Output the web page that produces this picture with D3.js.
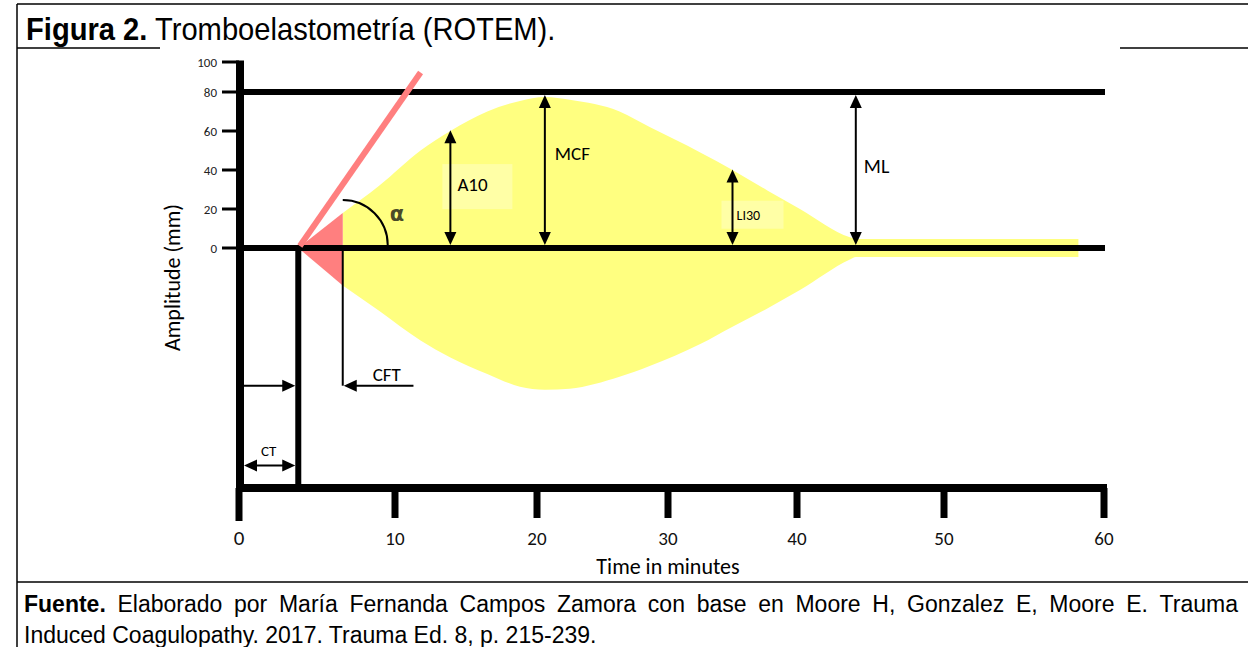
<!DOCTYPE html>
<html lang="es">
<head>
<meta charset="UTF-8">
<title>Tromboelastometría (ROTEM)</title>
<script src="https://d3js.org/d3.v7.min.js"></script>
<style>
  body { margin: 0; background: #fff; }
  svg { display: block; }
</style>
</head>
<body>
<script>
// values (time in minutes, amplitude in mm)
let timeTicks = [0, 10, 20, 30, 40, 50, 60];
let ampTicks = [0, 20, 40, 60, 80, 100];
let refLines = [0, 80];
let ctTime = 3.8;
let cftTime = 6.65;
let cftArrowEnd = 11.3;
let curveTime   = [3.8, 6.65, 9, 11.8, 13.9, 16.5, 18.8, 20.6, 22.5, 26.3, 28.6, 32.5, 35, 37.7, 40.2, 43.6, 44, 58.4];
let curveTop    = [0, 18, 32, 50, 60, 70, 75.4, 77.4, 76, 70, 62, 49, 40, 29.5, 20, 5.5, 4.6, 4.6];
let curveBottom = [0, -19, -32, -47, -55.6, -64, -70.5, -72, -71.5, -65.5, -60, -48.8, -40, -30.7, -21.4, -5.9, -4.6, -4.6];
let alphaTime = [3.9, 11.8];
let alphaAmp = [1, 93];
let arrowNames = ["A10", "MCF", "LI30", "ML"];
let arrowTime = [13.9, 20.6, 35, 44];
let arrowTop = [60.4, 80, 40.3, 80];
let ctArrowAmp = [-70, -110.6];

// layout
let W = 1248, H = 647;
let labelFont = "Carlito, Calibri, 'Open Sans', sans-serif";
let textFont = "'Liberation Sans', Arial, sans-serif";
let arrowLabel = {
    A10: { dx: 7, dy: 2, size: 19, box: [-15, -27, 70, 45] },
    MCF: { dx: 10, dy: -10, size: 19 },
    LI30: { dx: 4, dy: 11, size: 14, box: [-15, -19, 62, 28] },
    ML: { dx: 8, dy: 3, size: 20 }
};

let x = d3.scaleLinear().domain(timeTicks).range([239, 395, 537, 668, 797, 944, 1104]);
let y = d3.scaleLinear().domain([-122, 0, 80, 100]).range([488, 248, 92, 62]);

let svg = d3.select("body").append("svg")
    .attr("width", W)
    .attr("height", H);

// frame of the figure
svg.append("line").attr("x1", 17).attr("x2", 17).attr("y1", 4).attr("y2", H)
    .attr("stroke", "black").attr("stroke-width", 1.5);
svg.append("line").attr("x1", 17).attr("x2", W).attr("y1", 4).attr("y2", 4)
    .attr("stroke", "black").attr("stroke-width", 1.5);
svg.append("line").attr("x1", 17).attr("x2", 160).attr("y1", 48).attr("y2", 48)
    .attr("stroke", "black").attr("stroke-width", 1.5);
svg.append("line").attr("x1", 1120).attr("x2", W).attr("y1", 48).attr("y2", 48)
    .attr("stroke", "black").attr("stroke-width", 1.5);
svg.append("line").attr("x1", 17).attr("x2", W).attr("y1", 582).attr("y2", 582)
    .attr("stroke", "black").attr("stroke-width", 1.5);

// title
let title = svg.append("text")
    .attr("transform", "translate(26,40) scale(0.94,1)")
    .attr("font-family", textFont)
    .attr("font-size", 31);
title.append("tspan").attr("font-weight", "bold").text("Figura 2.");
title.append("tspan").text(" Tromboelastometría (ROTEM).");

// curve: red part before CFT, yellow after
let pts = curveTime.map((t, i) => ({ t: t, top: curveTop[i], bot: curveBottom[i] }));
let area = d3.area()
    .x(d => x(d.t))
    .y0(d => y(d.bot))
    .y1(d => y(d.top));

svg.append("path")
    .datum(pts.filter(d => d.t >= cftTime))
    .attr("d", area.curve(d3.curveMonotoneX))
    .attr("fill", "#ffff80");

svg.append("path")
    .datum(pts.filter(d => d.t <= cftTime))
    .attr("d", area.curve(d3.curveLinear))
    .attr("fill", "#ff7f7f");

// soft boxes behind some labels
arrowNames.forEach((name, i) => {
    let l = arrowLabel[name];
    if (!l.box) return;
    let mid = (y(0) + y(arrowTop[i])) / 2;
    svg.append("rect")
        .attr("x", x(arrowTime[i]) + l.dx + l.box[0])
        .attr("y", mid + l.dy + l.box[1])
        .attr("width", l.box[2])
        .attr("height", l.box[3])
        .attr("fill", "#ffffa6");
});

// thick reference lines
refLines.forEach(v => {
    svg.append("line")
        .attr("x1", x(0)).attr("x2", x(60) + 1)
        .attr("y1", y(v)).attr("y2", y(v))
        .attr("stroke", "black").attr("stroke-width", 6);
});

// y axis
svg.append("line")
    .attr("x1", x(0) + 1).attr("x2", x(0) + 1)
    .attr("y1", y(101)).attr("y2", y(-122) + 4)
    .attr("stroke", "black").attr("stroke-width", 8);

ampTicks.forEach(v => {
    svg.append("line")
        .attr("x1", x(0) - 17).attr("x2", x(0))
        .attr("y1", y(v)).attr("y2", y(v))
        .attr("stroke", "black").attr("stroke-width", 3);
    svg.append("text")
        .attr("x", x(0) - 22)
        .attr("y", y(v) + 4.5)
        .attr("text-anchor", "end")
        .attr("font-family", labelFont)
        .attr("font-size", 13)
        .attr("fill", "#222")
        .text(v);
});

svg.append("text")
    .attr("transform", "translate(180," + y(-15) + ") rotate(-90)")
    .attr("text-anchor", "middle")
    .attr("font-family", labelFont)
    .attr("font-size", 22)
    .text("Amplitude (mm)");

// x axis
svg.append("line")
    .attr("x1", x(0) - 3).attr("x2", x(60) + 3)
    .attr("y1", y(-122)).attr("y2", y(-122))
    .attr("stroke", "black").attr("stroke-width", 8);

timeTicks.forEach(t => {
    svg.append("line")
        .attr("x1", x(t)).attr("x2", x(t))
        .attr("y1", y(-122)).attr("y2", y(-122) + (t === 0 ? 33 : 30))
        .attr("stroke", "black").attr("stroke-width", 7);
    svg.append("text")
        .attr("x", x(t))
        .attr("y", 545)
        .attr("text-anchor", "middle")
        .attr("font-family", labelFont)
        .attr("font-size", t === 0 ? 21 : 19)
        .attr("fill", "#111")
        .text(t);
});

svg.append("text")
    .attr("x", x(30))
    .attr("y", 574)
    .attr("text-anchor", "middle")
    .attr("font-family", labelFont)
    .attr("font-size", 22)
    .text("Time in minutes");

// arrow helpers
function head(tipX, tipY, dir) {
    let L = 13, w = 6, p;
    if (dir === "up") p = [[tipX, tipY], [tipX - w, tipY + L], [tipX + w, tipY + L]];
    if (dir === "down") p = [[tipX, tipY], [tipX - w, tipY - L], [tipX + w, tipY - L]];
    if (dir === "left") p = [[tipX, tipY], [tipX + L, tipY - w], [tipX + L, tipY + w]];
    if (dir === "right") p = [[tipX, tipY], [tipX - L, tipY - w], [tipX - L, tipY + w]];
    svg.append("path").attr("d", d3.line()(p) + "Z").attr("fill", "black");
}

function seg(x1, y1, x2, y2, w) {
    svg.append("line")
        .attr("x1", x1).attr("x2", x2).attr("y1", y1).attr("y2", y2)
        .attr("stroke", "black").attr("stroke-width", w);
}

// CT and CFT markers
seg(x(ctTime), y(0), x(ctTime), y(-122), 6);
seg(x(cftTime), y(0) + 2, x(cftTime), y(ctArrowAmp[0]), 2);

seg(x(0) + 5, y(ctArrowAmp[0]), x(ctTime) - 8, y(ctArrowAmp[0]), 2);
head(x(ctTime) - 3, y(ctArrowAmp[0]), "right");

seg(x(0) + 10, y(ctArrowAmp[1]), x(ctTime) - 8, y(ctArrowAmp[1]), 2);
head(x(0) + 5, y(ctArrowAmp[1]), "left");
head(x(ctTime) - 3, y(ctArrowAmp[1]), "right");

svg.append("text")
    .attr("x", (x(0) + x(ctTime)) / 2)
    .attr("y", y(ctArrowAmp[1]) - 10)
    .attr("text-anchor", "middle")
    .attr("font-family", labelFont)
    .attr("font-size", 15)
    .text("CT");

seg(x(cftTime) + 8, y(ctArrowAmp[0]), x(cftArrowEnd), y(ctArrowAmp[0]), 2);
head(x(cftTime) + 1, y(ctArrowAmp[0]), "left");
svg.append("text")
    .attr("x", x(cftTime) + 30)
    .attr("y", y(ctArrowAmp[0]) - 5)
    .attr("font-family", labelFont)
    .attr("font-size", 19)
    .text("CFT");

// amplitude arrows
arrowNames.forEach((name, i) => {
    let ax = x(arrowTime[i]);
    let bottom = y(0) - 3;
    let top = refLines.includes(arrowTop[i]) ? y(arrowTop[i]) + 3 : y(arrowTop[i]);
    seg(ax, top + 8, ax, bottom - 8, 2);
    head(ax, top, "up");
    head(ax, bottom, "down");
    let l = arrowLabel[name];
    svg.append("text")
        .attr("x", ax + l.dx)
        .attr("y", (y(0) + y(arrowTop[i])) / 2 + l.dy)
        .attr("font-family", labelFont)
        .attr("font-size", l.size)
        .text(name);
});

// alpha angle
svg.append("line")
    .attr("x1", x(alphaTime[0])).attr("y1", y(alphaAmp[0]))
    .attr("x2", x(alphaTime[1])).attr("y2", y(alphaAmp[1]))
    .attr("stroke", "#ff7f7f").attr("stroke-width", 6);

let r = 45;
let arc = d3.path();
arc.moveTo(x(cftTime), y(0) - 3 - r);
arc.arc(x(cftTime), y(0) - 3, r, -Math.PI / 2, 0);
svg.append("path")
    .attr("d", arc.toString())
    .attr("fill", "none")
    .attr("stroke", "black")
    .attr("stroke-width", 2);

svg.append("text")
    .attr("x", x(cftTime) + 47)
    .attr("y", 221)
    .attr("font-family", "'DejaVu Sans', sans-serif")
    .attr("font-size", 21)
    .attr("font-weight", "bold")
    .attr("fill", "#4a4a28")
    .text("α");

// source note: first line justified word by word
let footWords = "Fuente. Elaborado por María Fernanda Campos Zamora con base en Moore H, Gonzalez E, Moore E. Trauma".split(" ");
let footLeft = 24, footRight = 1238;
let words = svg.append("g")
    .attr("font-family", textFont)
    .attr("font-size", 23);
let nodes = footWords.map((w, i) => words.append("text")
    .attr("y", 612)
    .attr("font-weight", i === 0 ? "bold" : "normal")
    .text(w));
let widths = nodes.map(n => n.node().getComputedTextLength());
let gap = (footRight - footLeft - d3.sum(widths)) / (footWords.length - 1);
let cursor = footLeft;
nodes.forEach((n, i) => {
    n.attr("x", cursor);
    cursor += widths[i] + gap;
});

svg.append("text")
    .attr("x", footLeft)
    .attr("y", 643)
    .attr("font-family", textFont)
    .attr("font-size", 23)
    .text("Induced Coagulopathy. 2017. Trauma Ed. 8, p. 215-239.");
</script>
</body>
</html>
